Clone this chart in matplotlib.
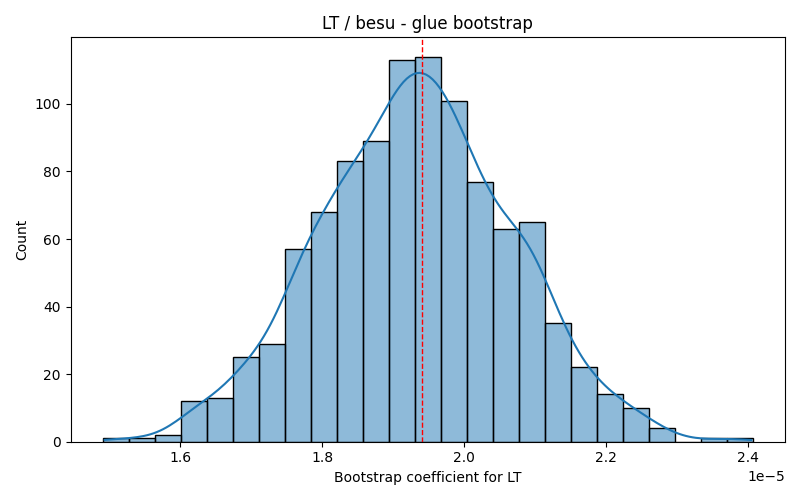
import numpy as np
import matplotlib
matplotlib.use("Agg")
import matplotlib.pyplot as plt
import seaborn as sns

# bootstrap histogram (1000 resamples, 25 bins)
bin_lo = 1.4909e-5
bin_hi = 2.4070e-5
counts = [1, 1, 2, 12, 13, 25, 29, 57, 68, 83, 89, 113, 114,
          101, 77, 63, 65, 35, 22, 14, 10, 4, 0, 1, 1]
estimate = 1.941e-5

edges = np.linspace(bin_lo, bin_hi, len(counts) + 1)
centers = (edges[:-1] + edges[1:]) / 2

fig, ax = plt.subplots(figsize=(8, 5), dpi=100)
sns.histplot(x=centers, weights=counts, bins=len(counts),
             binrange=(bin_lo, bin_hi), kde=True, ax=ax,
             kde_kws={"bw_method": 0.23, "cut": 0.26})
ax.axvline(estimate, color="red", linestyle="--", linewidth=1)

ax.set_title("LT / besu - glue bootstrap")
ax.set_xlabel("Bootstrap coefficient for LT")
ax.set_ylabel("Count")
plt.tight_layout()
plt.savefig("out.png")
